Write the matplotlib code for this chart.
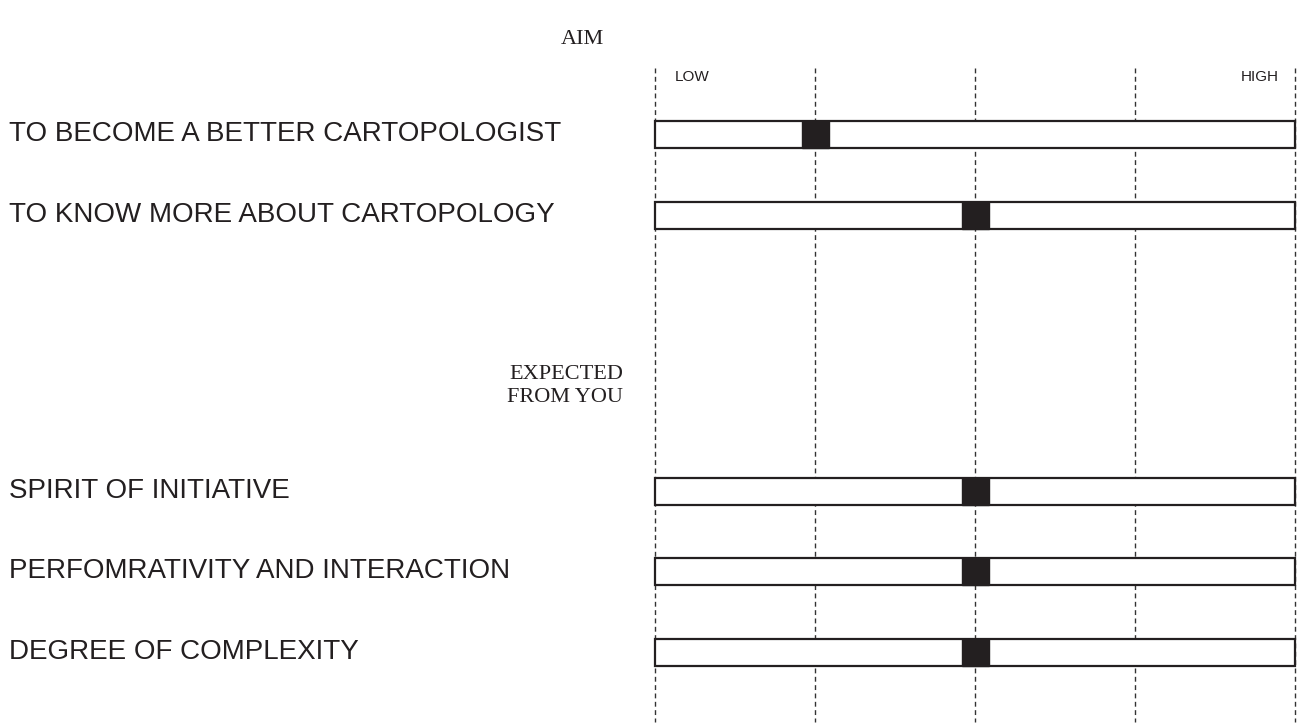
import matplotlib.pyplot as plt
from matplotlib.patches import Rectangle

# data
aims = ["TO BECOME A BETTER CARTOPOLOGIST", "TO KNOW MORE ABOUT CARTOPOLOGY"]
aim_values = [0.25, 0.5]
expected = ["SPIRIT OF INITIATIVE", "PERFOMRATIVITY AND INTERACTION", "DEGREE OF COMPLEXITY"]
expected_values = [0.5, 0.5, 0.5]
grid_ticks = [0, 0.25, 0.5, 0.75, 1.0]

labels = aims + expected
values = aim_values + expected_values
row_y = [134, 215.5, 491.5, 571.5, 652]  # pixel rows from top

W, H = 1303, 728
fig = plt.figure(figsize=(W / 100, H / 100), dpi=100)
x0, x1 = 655, 1295
ax = fig.add_axes([x0 / W, 0, (x1 - x0) / W, 1])
ax.set_xlim(0, 1)
ax.set_ylim(H, 0)
ax.axis("off")

dark = "#231f20"
for t in grid_ticks:
    ax.plot([t, t], [68, 722], color="#333333", lw=1.0, ls=(0, (3.5, 2.5)), clip_on=False)

bar_h = 27
mark_w = 27 / (x1 - x0)
for lab, v, y in zip(labels, values, row_y):
    ax.add_patch(Rectangle((0, y - bar_h / 2), 1, bar_h, facecolor="white",
                           edgecolor=dark, lw=1.6, zorder=3, clip_on=False))
    ax.add_patch(Rectangle((v - mark_w / 2, y - bar_h / 2), mark_w, bar_h,
                           facecolor=dark, edgecolor=dark, lw=1.0, zorder=4, clip_on=False))
    fig.text(9 / W, 1 - y / H, lab, ha="left", va="center", fontsize=20,
             family="Liberation Sans", color=dark)

ax.text(0.031, 77, "LOW", ha="left", va="center", fontsize=11, family="Liberation Sans", color=dark)
ax.text(0.975, 77, "HIGH", ha="right", va="center", fontsize=11, family="Liberation Sans", color=dark)

fig.text(582 / W, 1 - 40 / H, "AIM", ha="center", va="center", fontsize=16,
         family="Liberation Serif", color=dark)
fig.text(623 / W, 1 - 386 / H, "EXPECTED\nFROM YOU", ha="right", va="center", fontsize=16,
         family="Liberation Serif", color=dark, linespacing=1.3)

fig.savefig("out.png", dpi=100, facecolor="white")
